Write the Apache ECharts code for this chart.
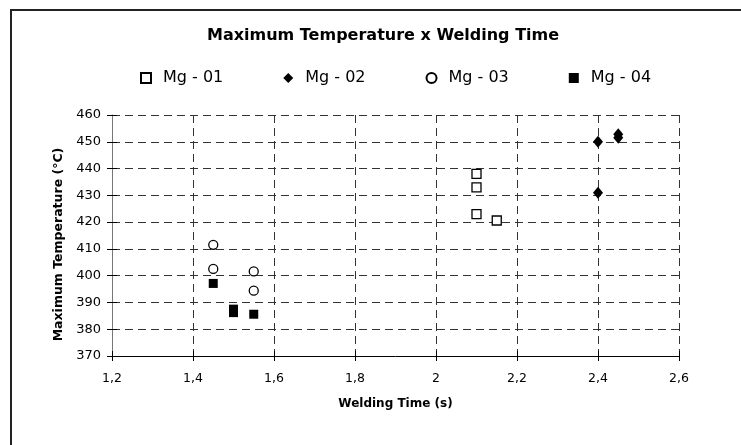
<!DOCTYPE html>
<html>
<head>
<meta charset="utf-8">
<script src="https://cdn.jsdelivr.net/npm/echarts@6/dist/echarts.min.js"></script>
<style>
  html, body { margin: 0; padding: 0; background: #fff; }
  #chart { width: 741px; height: 445px; }
</style>
</head>
<body>
<div id="chart"></div>
<script>
// data: [welding time (s), max temperature (°C)]
var mg01 = [[2.1, 438], [2.1, 433], [2.1, 423], [2.15, 420.6]];
var mg02 = [[2.4, 450], [2.4, 431], [2.45, 452.8], [2.45, 451.5]];
var mg03 = [[1.45, 411.5], [1.45, 402.5], [1.55, 401.6], [1.55, 394.4]];
var mg04 = [[1.45, 397.1], [1.5, 387.5], [1.5, 386.2], [1.55, 385.6]];
var seriesNames = ['Mg - 01', 'Mg - 02', 'Mg - 03', 'Mg - 04'];

var font = 'DejaVu Sans, sans-serif';
var chart = echarts.init(document.getElementById('chart'));

var dashed = { show: true, lineStyle: { color: '#333', type: [8, 5], width: 1 } };
var xRange = { min: 1.2, max: 2.6, interval: 0.2 };
var yRange = { min: 370, max: 460, interval: 10 };

var option = {
    backgroundColor: '#fff',
    animation: false,
    title: {
        text: 'Maximum Temperature x Welding Time',
        left: 202,
        top: 23,
        textStyle: { fontFamily: font, fontSize: 16, fontWeight: 'bold', color: '#000' }
    },
    legend: {
        top: 65,
        left: 135,
        itemGap: 60,
        itemWidth: 10,
        itemHeight: 10,
        textStyle: { fontFamily: font, fontSize: 16, color: '#000', padding: [0, 0, 0, 7] },
        data: seriesNames
    },
    grid: { left: 112, top: 115, right: 62, bottom: 89 },
    xAxis: [
        {
            type: 'value',
            min: xRange.min, max: xRange.max, interval: xRange.interval,
            name: 'Welding Time (s)',
            nameLocation: 'middle',
            nameGap: 42,
            nameTextStyle: { fontFamily: font, fontSize: 12, fontWeight: 'bold', color: '#000' },
            axisLine: { lineStyle: { color: '#000', width: 1 } },
            axisTick: { show: true, length: 5, lineStyle: { color: '#000' } },
            axisLabel: {
                fontFamily: font, fontSize: 12.5, color: '#000', margin: 16,
                formatter: function (v) { return String(+v.toFixed(1)).replace('.', ','); }
            },
            splitLine: dashed
        },
        {
            // inner half of the crossing tick marks
            type: 'value', position: 'bottom',
            min: xRange.min, max: xRange.max, interval: xRange.interval,
            axisLine: { show: false },
            axisTick: { show: true, inside: true, length: 5, lineStyle: { color: '#000' } },
            axisLabel: { show: false },
            splitLine: { show: false }
        }
    ],
    yAxis: [
        {
            type: 'value',
            min: yRange.min, max: yRange.max, interval: yRange.interval,
            name: 'Maximum Temperature (°C)',
            nameLocation: 'middle',
            nameGap: 47,
            nameTextStyle: { fontFamily: font, fontSize: 12.5, fontWeight: 'bold', color: '#000', padding: [0, 18, 0, 0] },
            axisLine: { show: true, lineStyle: { color: '#777', width: 1 } },
            axisTick: { show: true, length: 5, lineStyle: { color: '#000' } },
            axisLabel: { fontFamily: font, fontSize: 13, color: '#000', margin: 11 },
            splitLine: dashed
        },
        {
            type: 'value', position: 'left',
            min: yRange.min, max: yRange.max, interval: yRange.interval,
            axisLine: { show: false },
            axisTick: { show: true, inside: true, length: 5, lineStyle: { color: '#000' } },
            axisLabel: { show: false },
            splitLine: { show: false }
        }
    ],
    series: [
        {
            name: seriesNames[0], type: 'scatter', symbol: 'rect', symbolSize: 9,
            itemStyle: { color: '#fff', borderColor: '#000', borderWidth: 1.3, opacity: 1 },
            data: mg01
        },
        {
            name: seriesNames[1], type: 'scatter', symbol: 'diamond', symbolSize: [10, 12],
            itemStyle: { color: '#000', opacity: 1 },
            data: mg02
        },
        {
            name: seriesNames[2], type: 'scatter', symbol: 'circle', symbolSize: 9,
            itemStyle: { color: '#fff', borderColor: '#000', borderWidth: 1.3, opacity: 1 },
            data: mg03
        },
        {
            name: seriesNames[3], type: 'scatter', symbol: 'rect', symbolSize: 9,
            itemStyle: { color: '#000', opacity: 1 },
            data: mg04
        }
    ],
    graphic: [
        {
            type: 'rect', silent: true, z: -1,
            shape: { x: 11, y: 10, width: 760, height: 460 },
            style: { fill: 'none', stroke: '#222', lineWidth: 2 }
        }
    ]
};

chart.setOption(option);
</script>
</body>
</html>
